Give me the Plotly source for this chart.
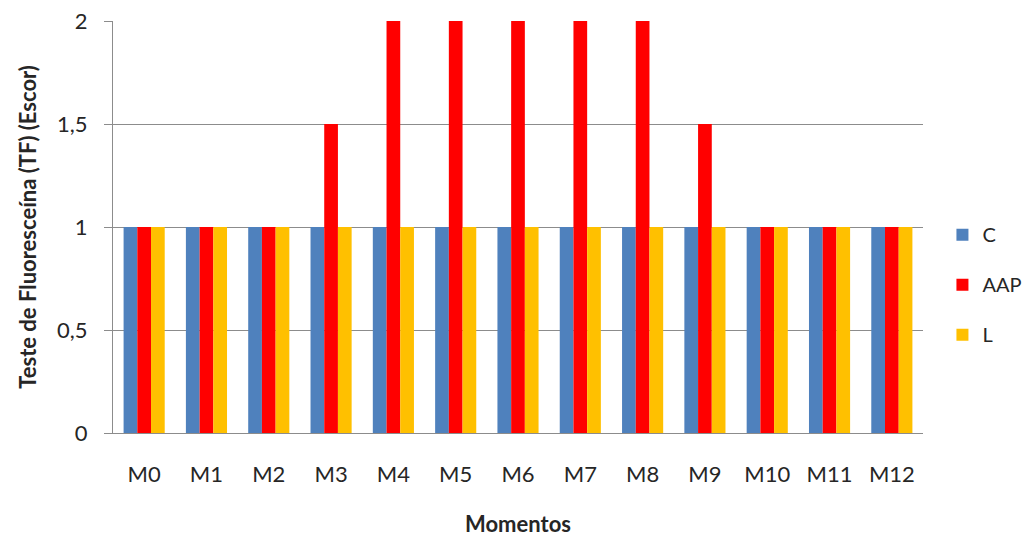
import plotly.graph_objects as go

momentos = ["M0", "M1", "M2", "M3", "M4", "M5", "M6", "M7", "M8", "M9", "M10", "M11", "M12"]
c_vals = [1, 1, 1, 1, 1, 1, 1, 1, 1, 1, 1, 1, 1]
aap_vals = [1, 1, 1, 1.5, 2, 2, 2, 2, 2, 1.5, 1, 1, 1]
l_vals = [1, 1, 1, 1, 1, 1, 1, 1, 1, 1, 1, 1, 1]

series = [("C", c_vals, "#4F81BD"), ("AAP", aap_vals, "#FF0000"), ("L", l_vals, "#FFC000")]

FONT = "Lato, 'Open Sans', sans-serif"
TEXT = "#262626"
GRID = "#8C8C8C"

fig = go.Figure()
for name, vals, color in series:
    fig.add_trace(go.Bar(
        x=momentos, y=vals, name=name, marker_color=color,
        marker_line_width=0, legendgroup=name,
    ))

fig.update_layout(
    width=1029, height=543,
    margin=dict(l=113, r=106, t=21, b=110, autoexpand=False),
    paper_bgcolor="white", plot_bgcolor="white",
    barmode="group", bargap=0.34, bargroupgap=0,
    font=dict(family=FONT, size=22, color=TEXT),
    showlegend=True,
    legend=dict(
        x=1.024, xanchor="left", y=0.36, yanchor="middle",
        traceorder="grouped", tracegroupgap=21,
        itemwidth=30, font=dict(size=20, color=TEXT),
    ),
)

fig.update_xaxes(
    showline=True, linecolor=GRID, linewidth=1,
    showgrid=False, ticks="", ticklabelstandoff=22,
    title=dict(text="<b>Momentos</b>", standoff=30, font=dict(size=22)),
)
fig.update_yaxes(
    range=[0, 2],
    tickvals=[0, 0.5, 1, 1.5, 2], ticktext=["0", "0,5", "1", "1,5", "2"],
    showline=True, linecolor=GRID, linewidth=1,
    showgrid=True, gridcolor=GRID, gridwidth=1,
    ticks="outside", ticklen=8, tickcolor=GRID,
    ticklabelstandoff=12, zeroline=False,
    title=dict(text="<b>Teste de Fluoresceína (TF) (Escor)</b>", standoff=14, font=dict(size=22)),
)

fig.write_html("out.html")
